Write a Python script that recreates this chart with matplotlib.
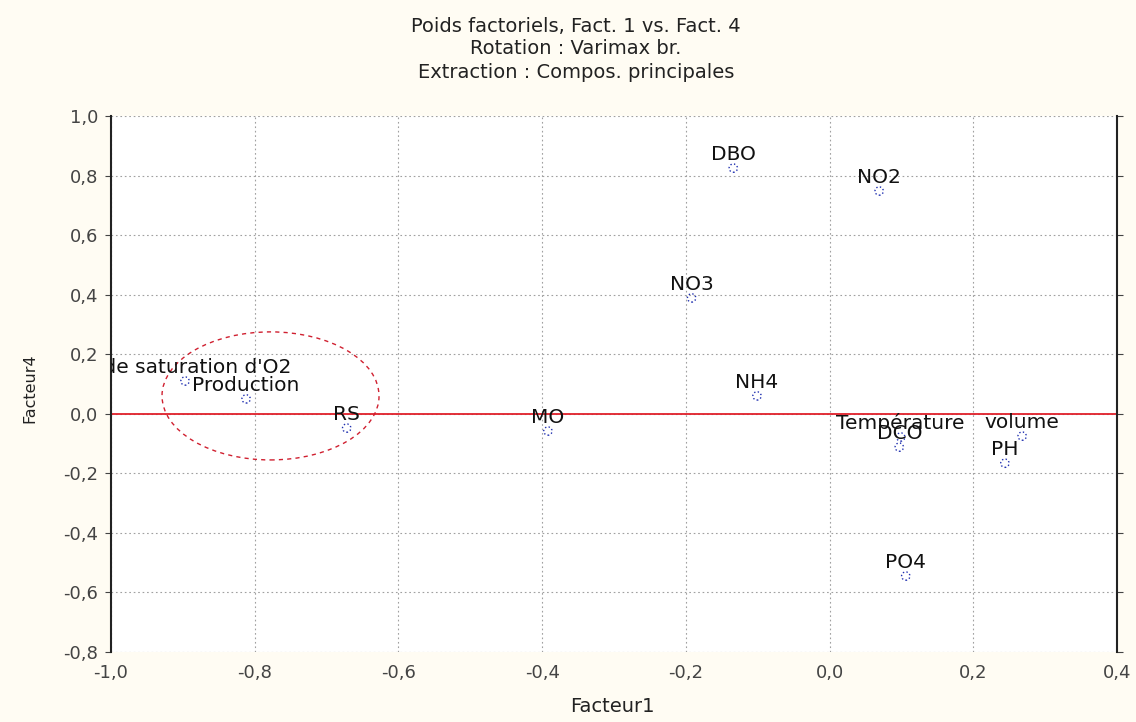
import matplotlib
matplotlib.use("Agg")
import matplotlib.pyplot as plt
from matplotlib.patches import Ellipse
from matplotlib.ticker import FixedLocator, FuncFormatter

plt.rcParams['font.family'] = ['DejaVu Sans']

# Data: factor loadings (Factor 1 vs Factor 4)
variables = ["DBO", "NO2", "NO3", "NH4", "MO", "RS", "Production",
             "% de saturation d'O2", "Température", "DCO", "volume", "PH", "PO4"]
fact1 = [-0.134, 0.069, -0.192, -0.101, -0.392, -0.672, -0.812,
         -0.897, 0.099, 0.097, 0.268, 0.244, 0.106]
fact4 = [0.825, 0.748, 0.389, 0.060, -0.058, -0.048, 0.050,
         0.110, -0.078, -0.112, -0.075, -0.166, -0.545]

x_ticks = [-1.0, -0.8, -0.6, -0.4, -0.2, 0.0, 0.2, 0.4]
y_ticks = [1.0, 0.8, 0.6, 0.4, 0.2, 0.0, -0.2, -0.4, -0.6, -0.8]

title_lines = ["Poids factoriels, Fact. 1 vs. Fact. 4",
               "Rotation : Varimax br.",
               "Extraction : Compos. principales"]

W, H = 1136, 722
fig = plt.figure(figsize=(W / 100, H / 100), dpi=100)
fig.patch.set_facecolor("#fffcf3")
ax = fig.add_axes([111 / W, 1 - 652 / H, (1117 - 111) / W, (652 - 116) / H])
ax.set_facecolor("white")

ax.set_xlim(-1.0, 0.4)
ax.set_ylim(-0.8, 1.0)
ax.xaxis.set_major_locator(FixedLocator(x_ticks))
ax.yaxis.set_major_locator(FixedLocator(y_ticks))
fmt = FuncFormatter(lambda v, p: f"{v:.1f}".replace(".", ","))
ax.xaxis.set_major_formatter(fmt)
ax.yaxis.set_major_formatter(fmt)

ax.grid(True, color="#a0a0a0", linestyle=(0, (1.5, 2.5)), linewidth=0.8)
ax.set_axisbelow(True)

for s in ["top", "bottom"]:
    ax.spines[s].set_visible(False)
for s in ["left", "right"]:
    ax.spines[s].set_color("#222222")
    ax.spines[s].set_linewidth(1.5)

ax.tick_params(axis="x", length=0, pad=9, labelsize=13, colors="#444444")
ax.tick_params(axis="y", length=4, direction="out", pad=5, labelsize=13,
               colors="#444444", right=True)

# zero line
ax.axhline(0.0, color="#e0202a", linewidth=1.3, zorder=2)

# points
ax.scatter(fact1, fact4, s=36, facecolors="none", edgecolors="#2030b0",
           linewidths=1.0, linestyle=":", zorder=4)

for name, xv, yv in zip(variables, fact1, fact4):
    ax.annotate(name, (xv, yv), xytext=(0, 3), textcoords="offset points",
                ha="center", va="bottom", fontsize=14.5, color="#111111",
                annotation_clip=False, clip_on=True, zorder=5)

# red dashed ellipse
ell = Ellipse((-0.778, 0.060), 0.302, 0.43, fill=False, edgecolor="#d02030",
              linestyle=(0, (3, 3)), linewidth=1.0, zorder=3)
ax.add_patch(ell)

# titles
for i, t in enumerate(title_lines):
    fig.text(576 / W, 1 - (26 + 23 * i) / H, t, ha="center", va="center",
             fontsize=14, color="#222222")

fig.text(612 / W, 1 - 707 / H, "Facteur1", ha="center", va="center",
         fontsize=14, color="#222222")
fig.text(30 / W, 1 - 388 / H, "Facteur4", ha="center", va="center",
         rotation=90, fontsize=11.5, color="#222222")

fig.savefig("out.png", dpi=100, facecolor=fig.get_facecolor())
